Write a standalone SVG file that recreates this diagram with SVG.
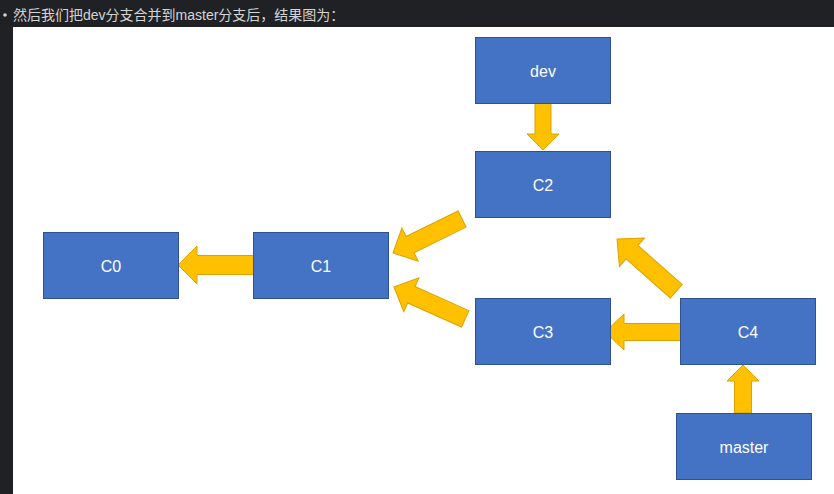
<svg xmlns="http://www.w3.org/2000/svg" width="834" height="494" viewBox="0 0 834 494">
<style>
.node rect{fill:#4472C4;stroke:#2F528F;stroke-width:1}
.node text{fill:#ffffff;font-family:"Liberation Sans",Arial,sans-serif;font-size:16px;text-anchor:middle;dominant-baseline:central}
.arr{fill:#FFC000;stroke:#D9A300;stroke-width:1}
.hdr{fill:#d4d4d4;font-family:"Liberation Sans","Noto Sans CJK SC",sans-serif;font-size:14px}
</style>
<rect x="0" y="0" width="834" height="494" fill="#202124"/>
<circle cx="5" cy="15" r="1.8" fill="#d4d4d4"/>
<text class="hdr" x="13" y="20">然后我们把dev分支合并到master分支后，结果图为：</text>
<rect x="13" y="27" width="821" height="467" fill="#ffffff"/>
<g id="connectors">
<polygon class="arr" transform="translate(543,150) rotate(-90)" points="0,0 16,-16 16,-8 47,-8 47,8 16,8 16,16"/>
<polygon class="arr" transform="translate(178,265) rotate(0)" points="0,0 19,-19 19,-9.5 77,-9.5 77,9.5 19,9.5 19,19"/>
<polygon class="arr" transform="translate(743,365) rotate(90)" points="0,0 16,-16 16,-8.5 48,-8.5 48,8.5 16,8.5 16,16"/>
<polygon class="arr" transform="translate(605,332) rotate(0)" points="0,0 19,-18 19,-8.5 77,-8.5 77,8.5 19,8.5 19,18"/>
<polygon class="arr" transform="translate(617,239) rotate(41.4)" points="0,0 20,-19 20,-9 79,-9 79,9 20,9 20,19"/>
<polygon class="arr" transform="translate(393,253) rotate(-26.2)" points="0,0 19,-18.5 19,-9 77,-9 77,9 19,9 19,18.5"/>
<polygon class="arr" transform="translate(394,287) rotate(24.1)" points="0,0 19,-18.5 19,-9 78,-9 78,9 19,9 19,18.5"/>
</g>
<g id="dev" class="node"><rect x="475.5" y="37.5" width="135" height="66"/><text x="543" y="71">dev</text></g>
<g id="C2" class="node"><rect x="475.5" y="151.5" width="135" height="66"/><text x="543" y="185">C2</text></g>
<g id="C0" class="node"><rect x="43.5" y="232.5" width="135" height="66"/><text x="111" y="266">C0</text></g>
<g id="C1" class="node"><rect x="253.5" y="232.5" width="135" height="66"/><text x="321" y="266">C1</text></g>
<g id="C3" class="node"><rect x="475.5" y="298.5" width="135" height="66"/><text x="543" y="332">C3</text></g>
<g id="C4" class="node"><rect x="680.5" y="298.5" width="135" height="66"/><text x="748" y="332">C4</text></g>
<g id="master" class="node"><rect x="676.5" y="413.5" width="135" height="66"/><text x="744" y="447">master</text></g>
</svg>
